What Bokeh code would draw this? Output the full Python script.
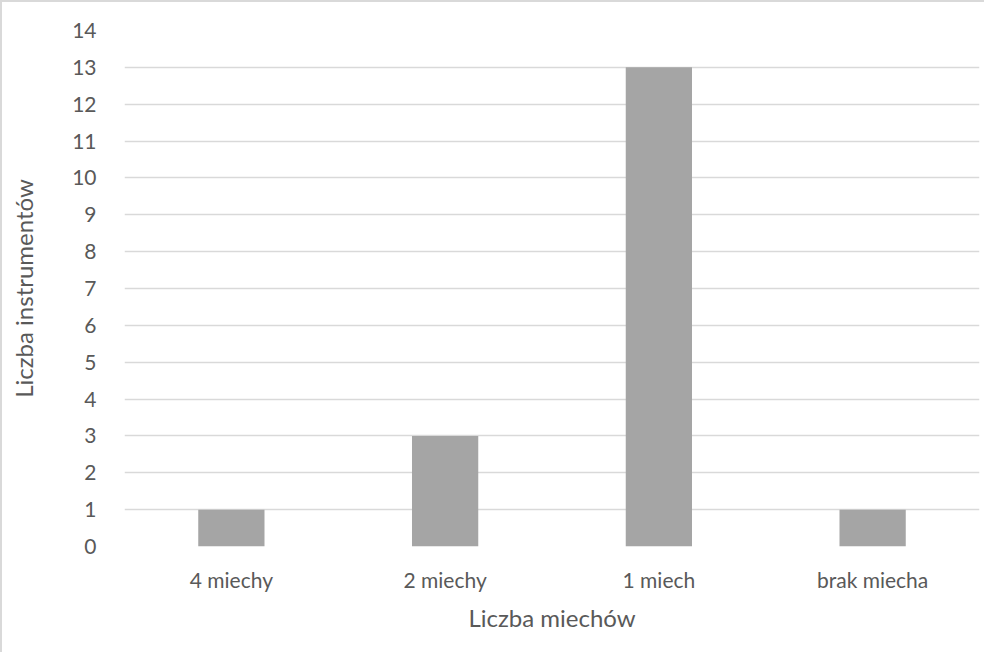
from bokeh.plotting import figure
from bokeh.models import FactorRange, Range1d, ColumnDataSource, SingleIntervalTicker
from bokeh.embed import file_html
from bokeh.resources import INLINE

categories = ["4 miechy", "2 miechy", "1 miech", "brak miecha"]
counts = [1, 3, 13, 1]
x_title = "Liczba miechów"
y_title = "Liczba instrumentów"

FONT = "Lato"
TXT = "#595959"

src = ColumnDataSource(dict(cat=categories, val=counts))

p = figure(width=984, height=652, x_range=FactorRange(*categories, range_padding=0),
           y_range=Range1d(0, 14), output_backend="svg", toolbar_location=None,
           min_border_left=122, min_border_right=7, min_border_top=28, min_border_bottom=108)
p.styles = {"border-left": "2px solid #d9d9d9", "border-top": "2px solid #d9d9d9"}
p.vbar(x="cat", top="val", width=0.31, source=src, fill_color="#A5A5A5", line_color=None)

p.outline_line_color = None
p.xgrid.grid_line_color = None
p.ygrid.grid_line_color = "#D9D9D9"
p.ygrid.grid_line_width = 1.3
p.yaxis.ticker = SingleIntervalTicker(interval=1)
for ax in (p.xaxis, p.yaxis):
    ax.axis_line_color = None
    ax.major_tick_line_color = None
    ax.minor_tick_line_color = None
    ax.major_label_text_font = FONT
    ax.major_label_text_font_size = "21px"
    ax.major_label_text_color = TXT
    ax.axis_label_text_font = FONT
    ax.axis_label_text_font_size = "24px"
    ax.axis_label_text_color = TXT
    ax.axis_label_text_font_style = "normal"
p.xaxis.axis_label = x_title
p.yaxis.axis_label = y_title
p.yaxis.major_label_standoff = 22
p.yaxis.axis_label_standoff = 31
p.xaxis.major_label_standoff = 14
p.xaxis.axis_label_standoff = 8

open("out.html", "w").write(file_html(p, INLINE))
